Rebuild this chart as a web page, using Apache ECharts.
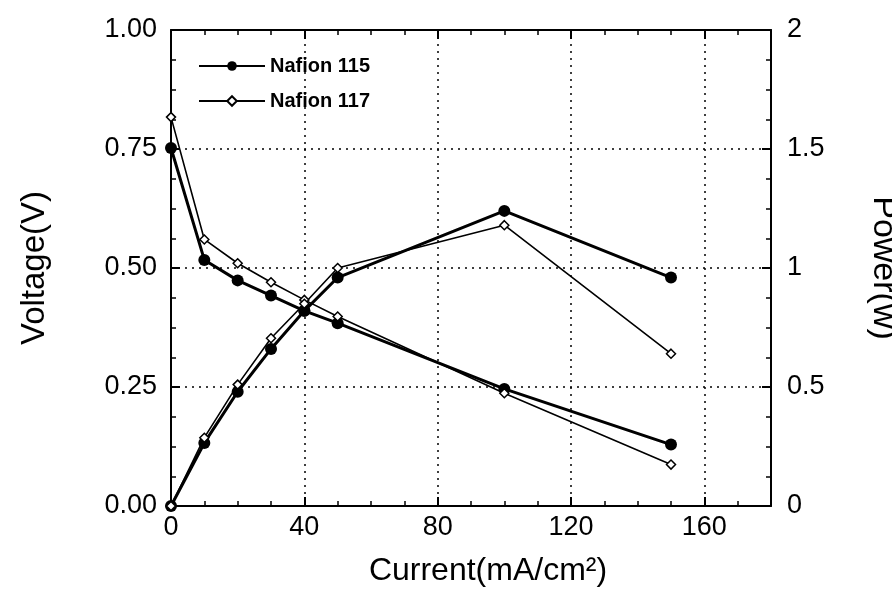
<!DOCTYPE html>
<html>
<head>
<meta charset="utf-8">
<script src="https://cdn.jsdelivr.net/npm/echarts@6/dist/echarts.min.js"></script>
<style>
html,body{margin:0;padding:0;background:#fff;}
#chart{width:892px;height:597px;}
</style>
</head>
<body>
<div id="chart"></div>
<script>
// Data
const current = [0, 10, 20, 30, 40, 50, 100, 150];          // mA/cm2
const voltage115 = [0.752, 0.517, 0.474, 0.442, 0.410, 0.384, 0.246, 0.129];
const voltage117 = [0.817, 0.560, 0.510, 0.470, 0.433, 0.398, 0.237, 0.087];
const power115 = [0, 0.265, 0.48, 0.66, 0.82, 0.96, 1.24, 0.96];
const power117 = [0, 0.287, 0.51, 0.705, 0.85, 1.00, 1.18, 0.64];
const seriesNames = ['Nafion 115', 'Nafion 117'];

const FONT = 'Liberation Sans, Arial, sans-serif';
const pairs = (xs, ys) => xs.map((x, i) => [x, ys[i]]);

const chart = echarts.init(document.getElementById('chart'), null, {renderer: 'canvas'});

const tickStyle = {show: true, inside: true, length: 9, lineStyle: {color: '#000', width: 2}};
const minorTick = {show: true, splitNumber: 4, length: 5, lineStyle: {color: '#000', width: 1.5}};
const axisLine = {show: true, onZero: false, lineStyle: {color: '#000', width: 2}};
const dotted = {show: true, lineStyle: {color: '#000', type: [2, 5], width: 1.5}};

const s115 = {type: 'line', name: seriesNames[0], symbol: 'circle', symbolSize: 12,
  lineStyle: {color: '#000', width: 3}, itemStyle: {color: '#000'}, z: 3};
const s117 = {type: 'line', name: seriesNames[1], symbol: 'diamond', symbolSize: 9,
  lineStyle: {color: '#000', width: 1.6}, itemStyle: {color: '#fff', borderColor: '#000', borderWidth: 1.5}, z: 4};

chart.setOption({
  backgroundColor: '#fff',
  animation: false,
  textStyle: {fontFamily: FONT, color: '#000'},
  grid: {left: 171, right: 121, top: 30, bottom: 91, containLabel: false, outerBoundsMode: 'none'},
  legend: {
    data: seriesNames,
    orient: 'vertical',
    left: 193, top: 51,
    itemWidth: 66, itemHeight: 12, itemGap: 15,
    textStyle: {fontFamily: FONT, fontSize: 20, fontWeight: 'bold', color: '#000'}
  },
  xAxis: [{
    type: 'value', min: 0, max: 180, interval: 40,
    name: 'Current(mA/cm²)', nameLocation: 'middle', nameGap: 49,
    nameTextStyle: {fontFamily: FONT, fontSize: 32, color: '#000', padding: [0, 0, 0, 34]},
    axisLine: axisLine, axisTick: tickStyle, minorTick: minorTick,
    axisLabel: {fontFamily: FONT, fontSize: 27, color: '#000', margin: 8, showMaxLabel: false},
    splitLine: dotted
  }, {
    type: 'value', min: 0, max: 180, interval: 40, position: 'top',
    axisLine: axisLine, axisTick: tickStyle, minorTick: minorTick,
    axisLabel: {show: false}, splitLine: {show: false}
  }],
  yAxis: [{
    type: 'value', min: 0, max: 1, interval: 0.25, position: 'left',
    name: 'Voltage(V)', nameLocation: 'middle', nameGap: 120, nameRotate: 90,
    nameTextStyle: {fontFamily: FONT, fontSize: 33, color: '#000'},
    axisLine: axisLine, axisTick: tickStyle, minorTick: minorTick,
    axisLabel: {fontFamily: FONT, fontSize: 27, color: '#000', margin: 14,
      formatter: v => v.toFixed(2)},
    splitLine: dotted
  }, {
    type: 'value', min: 0, max: 2, interval: 0.5, position: 'right',
    name: 'Power(w)', nameLocation: 'middle', nameGap: 95, nameRotate: -90,
    nameTextStyle: {fontFamily: FONT, fontSize: 34, color: '#000'},
    axisLine: axisLine, axisTick: tickStyle, minorTick: minorTick,
    axisLabel: {fontFamily: FONT, fontSize: 27, color: '#000', margin: 16,
      formatter: v => String(v)},
    splitLine: {show: false}
  }],
  series: [
    Object.assign({}, s115, {yAxisIndex: 0, data: pairs(current, voltage115)}),
    Object.assign({}, s117, {yAxisIndex: 0, data: pairs(current, voltage117)}),
    Object.assign({}, s115, {yAxisIndex: 1, data: pairs(current, power115)}),
    Object.assign({}, s117, {yAxisIndex: 1, data: pairs(current, power117)})
  ]
});
</script>
</body>
</html>
